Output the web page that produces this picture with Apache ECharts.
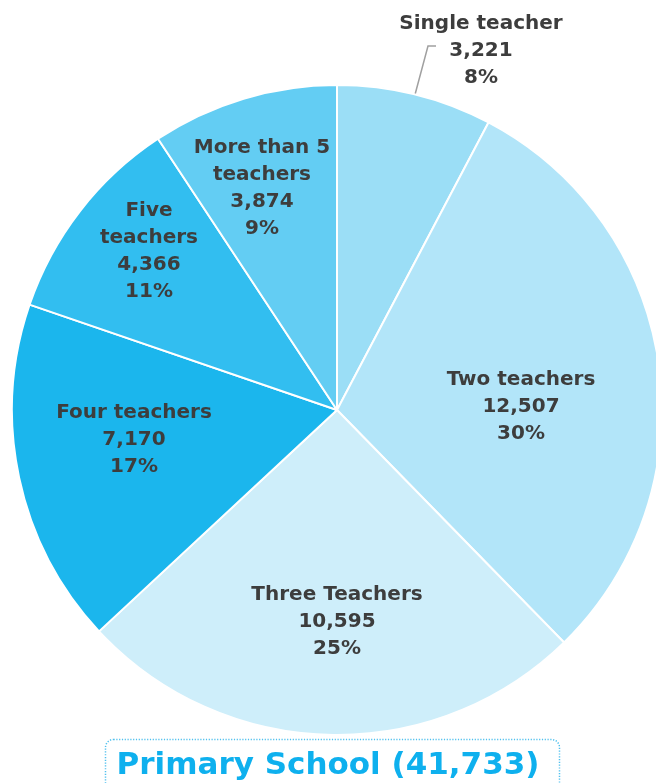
<!DOCTYPE html>
<html>
<head>
<meta charset="utf-8">
<script src="https://cdn.jsdelivr.net/npm/echarts@6/dist/echarts.min.js"></script>
<style>
  html, body { margin: 0; padding: 0; background: #fff; }
  #chart { width: 656px; height: 783px; }
</style>
</head>
<body>
<div id="chart"></div>
<script>
// categories and values
const categories = ['Single teacher', 'Two teachers', 'Three Teachers', 'Four teachers', 'Five teachers', 'More than 5 teachers']
const labelNames = ['Single teacher', 'Two teachers', 'Three Teachers', 'Four teachers', 'Five\nteachers', 'More than 5\nteachers']
const values = [3221, 12507, 10595, 7170, 4366, 3874]
const colors = ['#9bdef6', '#b2e5f9', '#ceeefa', '#1bb6ed', '#32bef0', '#63cdf3']
const titleText = 'Primary School (41,733)'

// pie geometry and where each label sits (label centre)
const pieCenter = [337, 410]
const pieRadius = 325
const labelPos = [[481, 51], [521, 407], [337, 622], [134, 440], [149, 251], [262, 188]]

const total = values.reduce((a, b) => a + b, 0)
const midAngle = i => {
  const before = values.slice(0, i).reduce((a, b) => a + b, 0)
  return (before + values[i] / 2) / total * 2 * Math.PI
}

const chart = echarts.init(document.getElementById('chart'))

const data = values.map((v, i) => {
  const item = { name: categories[i], value: v, itemStyle: { color: colors[i] } }
  if (i === 0) {
    item.label = { position: 'outside' }
    item.labelLine = { show: true }
  }
  return item
})

const labelFont = 'DejaVu Sans, Verdana, sans-serif'

const option = {
  animation: false,
  title: {
    text: titleText,
    left: 'center',
    top: 745,
    textStyle: {
      fontFamily: labelFont,
      fontSize: 31,
      fontWeight: 'bold',
      color: '#0eb0ee'
    }
  },
  graphic: [{
    type: 'rect',
    left: 103,
    top: 737,
    shape: { width: 454, height: 70, r: 8 },
    style: { fill: 'none', stroke: '#4fc0ee', lineWidth: 1.5, lineDash: [1.2, 1.6] },
    z: -1
  }],
  series: [{
    type: 'pie',
    center: pieCenter,
    radius: [0, pieRadius],
    startAngle: 90,
    clockwise: true,
    percentPrecision: 0,
    itemStyle: { borderColor: '#ffffff', borderWidth: 2 },
    label: {
      show: true,
      position: 'inside',
      align: 'center',
      fontFamily: labelFont,
      fontSize: 20,
      fontWeight: 'bold',
      lineHeight: 27,
      color: '#3d3d3d',
      formatter: p => labelNames[p.dataIndex] + '\n' + p.value.toLocaleString('en-US') + '\n' + p.percent + '%'
    },
    labelLine: {
      show: false,
      lineStyle: { color: '#a0a0a0', width: 1.5 }
    },
    labelLayout: p => {
      const i = p.dataIndex
      const out = { x: labelPos[i][0], y: labelPos[i][1], align: 'center', verticalAlign: 'middle' }
      if (i === 0) {
        const a = midAngle(i)
        const sx = pieCenter[0] + pieRadius * Math.sin(a)
        const sy = pieCenter[1] - pieRadius * Math.cos(a)
        out.labelLinePoints = [[sx, sy], [428, 46], [436, 46]]
      }
      return out
    },
    emphasis: { disabled: true },
    data: data
  }]
}

chart.setOption(option)
</script>
</body>
</html>
